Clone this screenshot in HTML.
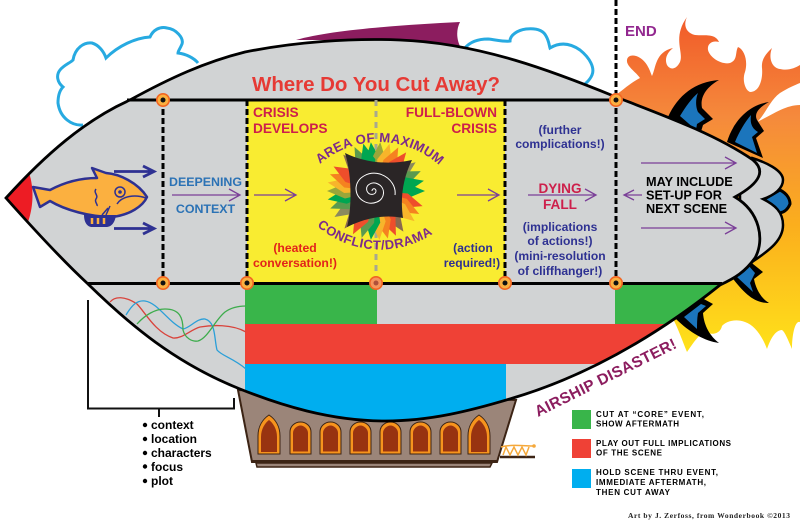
<!DOCTYPE html>
<html><head><meta charset="utf-8"><style>
html,body{margin:0;padding:0;background:#fff}
svg{display:block}
text{font-family:"Liberation Sans",sans-serif;font-weight:bold}
</style></head><body>
<svg width="800" height="524" viewBox="0 0 800 524" xmlns="http://www.w3.org/2000/svg">
<defs>
<linearGradient id="fl" x1="0" y1="0" x2="0" y2="1"><stop offset="0" stop-color="#f15a29"/><stop offset=".3" stop-color="#f58a3c"/><stop offset=".62" stop-color="#fbae1d"/><stop offset="1" stop-color="#ffe21a"/></linearGradient>
<clipPath id="hc"><path id="hp" d="M6 198C45 155 85 120 130 100C170 78 205 62 245 52C295 42 350 38 400 40C480 43 555 72 616 97C665 116 715 134 753 160C765 170 762 182 735 197C760 212 765 240 755 258C745 272 735 278 720 285C670 325 600 372 513 398C470 411 430 421 385 421C330 421 280 405 240 389C175 363 130 325 88 284C60 258 30 225 6 198Z"/></clipPath>
<path id="sp" d="M0 0L-7.500 -31L0 -49L7.500 -31Z"/>
<g id="wt"><path d="M258 454V436C258 426 263 419 269 415C275 419 280 426 280 436V454Z" fill="#f7941d" stroke="#3c2415"/><path d="M261 452V437C261 429 265 423 269 420C273 423 277 429 277 437V452Z" fill="#983310"/></g>
<g id="ws"><path d="M290 454V432C290 426 295 422 300.500 422C306 422 311 426 311 432V454Z" fill="#f7941d" stroke="#3c2415"/><path d="M293 451.500V433C293 429 297 425.500 300.500 425.500C304 425.500 308 429 308 433V451.500Z" fill="#983310"/></g>
<g id="c"><circle r="6.200" fill="#fbb040" stroke="#f26522" stroke-width="1.600"/><circle r="2.500" fill="#111"/></g>
</defs>

<path d="M612 100L616 95C625 88 632 82 640 78C636 72 626 66 627 60C628 53 640 54 647 65C650 70 651 74 652 76C656 68 655 52 673 48C668 52 664 58 667 65C670 70 676 70 680 62C684 52 672 38 687 17C683 25 686 33 695 35C705 36 715 33 719 42C712 40 707 44 708 50C710 58 722 65 730 63C738 60 735 52 738 47C745 50 748 62 745 72C742 80 745 90 750 92C760 92 763 78 762 68C761 58 768 52 772 48C768 58 772 68 780 69C788 71 795 68 800 65V322C795 320 792 335 792 349C788 340 785 332 782 330C775 330 770 340 767 349C763 338 755 325 745 322C735 318 725 322 722 326C720 335 710 335 705 332C698 335 692 345 687 352C682 340 678 328 673 319L640 300Z" fill="url(#fl)"/>
<path d="M757 122C765 115 770 100 780 93C788 88 795 85 800 83V105C785 105 772 115 757 122Z" fill="#fff"/>

<path d="M83 125C72 126 60 118 58 103C58 95 60 90 63 87C57 82 56 75 60 70C64 65 70 63 73 60C75 48 84 42 92 43C99 45 104 52 106 58C118 46 135 38 150 37C153 30 160 26 167 28C176 29 184 38 182 44C180 49 178 51 178 53C186 54 194 58 198 63" fill="none" stroke="#27aae1" stroke-width="3"/>
<path d="M465 48C470 42 478 39 488 39C497 40 505 42 510 41C510 35 518 30 526 29C536 28 543 30 546 36C549 41 549 45 550 48C560 42 570 43 580 50C590 58 595 68 592 75C590 80 587 82 585 84" fill="none" stroke="#27aae1" stroke-width="3"/>
<path d="M296 40C330 30 400 25 460 22C456 30 456 40 462 50L400 40Z" fill="#8c1d5f"/>

<path d="M668 117C678 95 695 82 719 80C705 88 700 98 702 108L713 119L703 125L700 135Z" fill="#000"/>
<path d="M680 116C686 106 692 98 698 93C695 100 696 108 698 112L705 119L697 124L696 130Z" fill="#1b75bc"/>
<path d="M727 142C733 122 748 105 769 102C758 108 754 114 757 120L764 131L756 138L763 158Z" fill="#000"/>
<path d="M735 142C739 132 745 122 751 115C750 122 751 128 758 132L752 137L757 153Z" fill="#1b75bc"/>
<path d="M731 276L748 260L763 272L754 279C756 290 762 299 769 303C755 303 745 295 731 276Z" fill="#000"/>
<path d="M737 277L748 265L755 273L750 283L753 292Z" fill="#1b75bc"/>
<path d="M675 318L702 298L713 304L703 313C704 326 710 336 719 343C705 341 690 333 675 318Z" fill="#000"/>
<path d="M684 317L701 304L706 306L698 313C697 319 697 324 697 329Z" fill="#1b75bc"/>
<path d="M763 200L780 190C788 194 790 200 790 204C788 209 785 212 780 213Z" fill="#1b75bc" stroke="#000" stroke-width="3"/>
<path d="M752 158C765 162 783 170 783 180C783 188 775 195 763 199C775 205 783 212 783 225C783 240 770 250 752 262L740 240V180Z" fill="#d1d3d4" stroke="#000" stroke-width="2.500"/>

<path d="M238 390L252 462H497L516 400Z" fill="#9b8579" stroke="#3c2415" stroke-width="2"/>
<rect x="252" y="460" width="245" height="3" fill="#3c2415"/>
<path d="M256 463H492L490 467H257Z" fill="#9b8579" stroke="#3c2415" stroke-width="1.500"/>
<use href="#wt"/><use href="#ws"/><use href="#ws" x="30"/><use href="#ws" x="60"/><use href="#ws" x="90"/><use href="#ws" x="120"/><use href="#ws" x="150"/><use href="#wt" x="210"/>
<path d="M500 457H535" stroke="#3c2415" stroke-width="2.500"/>
<path d="M501 447C512 444 525 446 534 446M503 455L506 447L510 455L514 447L518 455L522 447L526 455L529 447" fill="none" stroke="#f5a83a" stroke-width="1.500"/>
<circle cx="534" cy="446" r="1.800" fill="#f5a83a"/>

<use href="#hp" fill="#d1d3d4"/>
<g clip-path="url(#hc)">
<path d="M0 170H28C34 185 34 205 28 222H0Z" fill="#ed1c24"/>
<rect x="247" y="100" width="258" height="183" fill="#f9ec31"/>
<rect x="245" y="285" width="132" height="39" fill="#39b54a"/>
<rect x="615" y="285" width="120" height="39" fill="#39b54a"/>
<rect x="245" y="324" width="450" height="40" fill="#ef4136"/>
<rect x="245" y="364" width="261" height="70" fill="#00aeef"/>
</g>
<g fill="none" stroke-width="1.300">
<path d="M110 302C115 296 125 296 137 304C145 312 155 332 173 338C182 339 190 330 200 327C212 325 232 324 246 332" stroke="#d9433b"/>
<path d="M126 315C132 305 137 300 145 301C158 303 168 322 183 329C190 328 197 318 205 319C216 322 214 338 217 350C222 356 233 358 246 369" stroke="#2b9fd8"/>
<path d="M137 324C145 315 155 309 165 309C180 309 183 318 183 330C185 338 192 342 198 341C208 338 215 320 225 312C232 307 240 306 246 306" stroke="#3dac4c"/>
</g>
<use href="#hp" fill="none" stroke="#000" stroke-width="2.800"/>
<path d="M127 100H616M88 283.500H722" stroke="#000" stroke-width="3"/>

<path d="M163 100V283M247 100V283M505 100V283M616 0V283" stroke="#000" stroke-width="3" stroke-dasharray="6 3" fill="none"/>
<path d="M376 100V283" stroke="#a8a88f" stroke-width="3" stroke-dasharray="6 5"/>
<use href="#c" x="163" y="100"/><use href="#c" x="616" y="100"/><use href="#c" x="163" y="283"/><use href="#c" x="247" y="283"/><use href="#c" x="505" y="283"/><use href="#c" x="616" y="283"/>
<circle cx="376" cy="283" r="6.200" fill="#f6955c" stroke="#f26522" stroke-width="1.600"/><circle cx="376" cy="283" r="2.500" fill="#b0503a"/>

<g transform="translate(376 191)">
<use href="#sp" fill="#00a651" transform="rotate(-6)"/><use href="#sp" fill="#9aa63a" transform="rotate(5)"/><use href="#sp" fill="#f7b52b" transform="rotate(16)"/><use href="#sp" fill="#f58220" transform="rotate(27)"/><use href="#sp" fill="#ee4e2b" transform="rotate(38)"/><use href="#sp" fill="#8b8a5e" transform="rotate(54)"/><use href="#sp" fill="#5a9a4f" transform="rotate(66)"/><use href="#sp" fill="#00a651" transform="rotate(78)"/><use href="#sp" fill="#00a651" transform="rotate(90)"/><use href="#sp" fill="#ee4e2b" transform="rotate(108)"/><use href="#sp" fill="#f58220" transform="rotate(118)"/><use href="#sp" fill="#f7b52b" transform="rotate(128)"/><use href="#sp" fill="#8b6a4e" transform="rotate(146)"/><use href="#sp" fill="#ee4e2b" transform="rotate(156)"/><use href="#sp" fill="#f58220" transform="rotate(166)"/><use href="#sp" fill="#f7b52b" transform="rotate(176)"/><use href="#sp" fill="#00a651" transform="rotate(186)"/><use href="#sp" fill="#5a9a4f" transform="rotate(197)"/><use href="#sp" fill="#ee4e2b" transform="rotate(208)"/><use href="#sp" fill="#8b6a4e" transform="rotate(220)"/><use href="#sp" fill="#8b8a5e" transform="rotate(238)"/><use href="#sp" fill="#5a9a4f" transform="rotate(249)"/><use href="#sp" fill="#00a651" transform="rotate(260)"/><use href="#sp" fill="#9aa63a" transform="rotate(270)"/><use href="#sp" fill="#f7b52b" transform="rotate(280)"/><use href="#sp" fill="#f58220" transform="rotate(290)"/><use href="#sp" fill="#ee4e2b" transform="rotate(300)"/><use href="#sp" fill="#8b6a4e" transform="rotate(318)"/><use href="#sp" fill="#5a9a4f" transform="rotate(334)"/><use href="#sp" fill="#00a651" transform="rotate(345)"/>
</g>
<path d="M345 153C365 163 390 165 412 160C403 178 400 198 403 218C385 214 365 218 347 227C352 208 352 175 345 153Z" fill="#2a2526"/>
<path d="M372 191C372 188 376 188 376 191C376 195 369 196 367 191C365 185 372 181 378 184C386 188 385 199 377 202C367 206 356 199 356 188C357 177 369 171 380 174C392 178 396 188 395 195" fill="none" stroke="#fff" stroke-width="1"/>

<path d="M147 197C138 183 120 174 106 173L92 168L97 178C80 178 65 182 50 190L33 187L40 207L50 201C65 210 90 217 112 217C130 215 143 206 147 197Z" fill="#fbb040" stroke="#2e3192" stroke-width="2.500" stroke-linejoin="round"/>
<path d="M84 215H116C115 222 112 227 106 227H92C87 227 84 222 84 215Z" fill="#2e3192"/>
<path d="M92 218V224M98 218V224M104 218V224" stroke="#fbb040" stroke-width="2.500"/>
<circle cx="120" cy="192" r="5" fill="#fbb040" stroke="#2e3192" stroke-width="1.500"/><circle cx="120" cy="192" r="1.800" fill="#2e3192"/>
<path d="M146 198C135 194 122 196 117 204M96 189C93 193 99 195 96 199C94 202 98 204 97 206M102 215L108 208M106 215L110 206" fill="none" stroke="#2e3192" stroke-width="1.500"/>

<g fill="none" stroke="#2e3192" stroke-width="2.800"><path d="M114 171.500H152M143 166L154 171.500L143 177"/><path d="M114 228.500H152M143 223L154 228.500L143 234"/></g>
<g fill="none" stroke="#7b3f98" stroke-width="1.300"><path d="M172 195H240M229 189L240 195L229 201"/><path d="M254 195H296M285 189L296 195L285 201"/><path d="M457 195H499M488 189L499 195L488 201"/><path d="M528 195H596M585 189L596 195L585 201"/><path d="M642 195H624M634 190L624 195L634 200"/><path d="M641 163H736M725 157L736 163L725 169"/><path d="M641 228H736M725 222L736 228L725 234"/></g>

<path d="M88 300V408.500H234V398M159 408.500V417" fill="none" stroke="#111" stroke-width="2"/>

<text x="252" y="91" font-size="20.500" fill="#e63a35" textLength="248">Where Do You Cut Away?</text>
<g font-size="13.700" fill="#cd1f4b"><text x="253" y="117">CRISIS</text><text x="253" y="133">DEVELOPS</text><text x="497" y="117" text-anchor="end">FULL-BLOWN</text><text x="497" y="133" text-anchor="end">CRISIS</text></g>
<g font-size="12.400" fill="#2b72b5" text-anchor="middle"><text x="205.500" y="186">DEEPENING</text><text x="205.500" y="213">CONTEXT</text></g>
<g font-size="12.200" fill="#e2231a" text-anchor="middle"><text x="295" y="252">(heated</text><text x="295" y="267">conversation!)</text></g>
<g font-size="12.100" fill="#2e3192" text-anchor="middle"><text x="473" y="252">(action</text><text x="472" y="267">required!)</text><text x="560" y="134">(further</text><text x="560" y="148">complications!)</text><text x="560" y="231">(implications</text><text x="560" y="245">of actions!)</text><text x="560" y="260">(mini-resolution</text><text x="560" y="275">of cliffhanger!)</text></g>
<g font-size="13.600" fill="#cd1f4b" text-anchor="middle"><text x="560" y="193">DYING</text><text x="560" y="209">FALL</text></g>
<g font-size="12.700" fill="#000"><text x="646" y="186">MAY INCLUDE</text><text x="646" y="199.500">SET-UP FOR</text><text x="646" y="213">NEXT SCENE</text></g>
<text x="625" y="36" font-size="15" fill="#92278f">END</text>
<path id="a1" d="M320 164A90 90 0 0 1 444 170" fill="none"/>
<path id="a2" d="M317 226A96 96 0 0 0 438 230" fill="none"/>
<text font-size="13.200" fill="#7b2a8c" letter-spacing=".2"><textPath href="#a1">AREA OF MAXIMUM</textPath></text>
<text font-size="13" fill="#7b2a8c" letter-spacing=".5"><textPath href="#a2">CONFLICT/DRAMA</textPath></text>
<text transform="translate(538 417) rotate(-26.500)" font-size="15.500" fill="#8c1d5f" textLength="156">AIRSHIP DISASTER!</text>
<g font-size="12" fill="#000"><circle cx="145" cy="425" r="2.200"/><circle cx="145" cy="439" r="2.200"/><circle cx="145" cy="453" r="2.200"/><circle cx="145" cy="466.500" r="2.200"/><circle cx="145" cy="481" r="2.200"/><text x="151" y="429">context</text><text x="151" y="443">location</text><text x="151" y="457">characters</text><text x="151" y="471">focus</text><text x="151" y="485">plot</text></g>
<rect x="572" y="410" width="19" height="19" fill="#39b54a"/><rect x="572" y="439" width="19" height="19" fill="#ef4136"/><rect x="572" y="469" width="19" height="19" fill="#00aeef"/>
<g font-size="8" fill="#000"><text x="596" y="417" textLength="108">CUT AT “CORE” EVENT,</text><text x="596" y="426.500" textLength="83">SHOW AFTERMATH</text><text x="596" y="446" textLength="135">PLAY OUT FULL IMPLICATIONS</text><text x="596" y="455.500" textLength="66">OF THE SCENE</text><text x="596" y="475" textLength="122">HOLD SCENE THRU EVENT,</text><text x="596" y="485" textLength="110">IMMEDIATE AFTERMATH,</text><text x="596" y="495" textLength="74">THEN CUT AWAY</text></g>
<text x="628" y="518" font-size="7.500" textLength="162" fill="#222" style="font-family:'Liberation Serif',serif">Art by J. Zerfoss, from Wonderbook ©2013</text>
</svg>
</body></html>
